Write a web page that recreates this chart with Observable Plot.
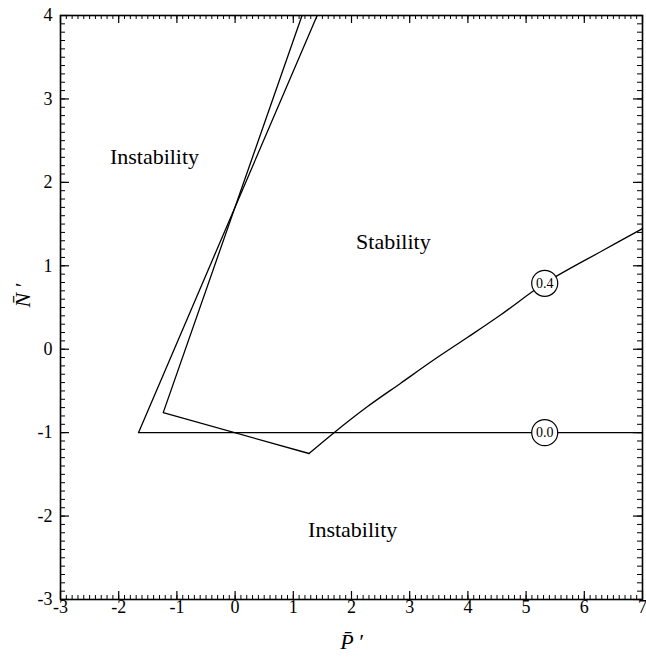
<!DOCTYPE html>
<html>
<head>
<meta charset="utf-8">
<script src="https://cdn.jsdelivr.net/npm/d3@7"></script>
<script src="https://cdn.jsdelivr.net/npm/@observablehq/plot@0.6"></script>
<style>
  html, body { margin: 0; padding: 0; background: #fff; }
</style>
</head>
<body>
<div id="chart"></div>
<script>
// Axis ticks
const xTicks = [-3, -2, -1, 0, 1, 2, 3, 4, 5, 6, 7];
const yTicks = [-3, -2, -1, 0, 1, 2, 3, 4];
const xMinor = d3.range(-30, 71).map(d => d / 10);
const yMinor = d3.range(-30, 41).map(d => d / 10);

// Curve labelled 0.0
const curve00P = [1.41, -1.66, 7];
const curve00N = [4, -1, -1];
// Curve labelled 0.4: straight part, then smooth branch
const curve04LineP = [1.15, -1.235, 1.27];
const curve04LineN = [4, -0.76, -1.25];
const curve04CurveP = [1.27, 1.70, 2.27, 2.84, 3.41, 3.99, 4.56, 5.32, 6.31, 7];
const curve04CurveN = [-1.25, -1.0, -0.69, -0.41, -0.13, 0.14, 0.41, 0.79, 1.18, 1.446];

// Curve value labels
const labelText = ["0.0", "0.4"];
const labelP = [5.32, 5.32];
const labelN = [-1, 0.79];

// Region annotations
const regionText = ["Instability", "Stability", "Instability"];
const regionP = [-1.385, 2.72, 2.02];
const regionN = [2.31, 1.29, -2.17];

const c00 = curve00P.map((p, i) => ({p, n: curve00N[i]}));
const c04a = curve04LineP.map((p, i) => ({p, n: curve04LineN[i]}));
const c04b = curve04CurveP.map((p, i) => ({p, n: curve04CurveN[i]}));
const labels = labelText.map((t, i) => ({t, p: labelP[i], n: labelN[i]}));
const regions = regionText.map((t, i) => ({t, p: regionP[i], n: regionN[i]}));

const serif = "'Liberation Serif', 'Times New Roman', serif";
const innerH = 662 - 15 - 63;
const innerW = 646 - 60 - 4;

const chart = Plot.plot({
  width: 646,
  height: 662,
  marginLeft: 60,
  marginRight: 4,
  marginTop: 15,
  marginBottom: 63,
  style: {fontFamily: serif, fontSize: "17px", color: "black", background: "white"},
  x: {domain: [-3, 7], axis: null},
  y: {domain: [-3, 4], axis: null},
  marks: [
    // minor ticks (inward, all four sides)
    Plot.tickX(xMinor, {x: d => d, insetTop: innerH - 4, stroke: "black", strokeWidth: 1}),
    Plot.tickX(xMinor, {x: d => d, insetBottom: innerH - 4, stroke: "black", strokeWidth: 1}),
    Plot.tickY(yMinor, {y: d => d, insetRight: innerW - 5, stroke: "black", strokeWidth: 1}),
    Plot.tickY(yMinor, {y: d => d, insetLeft: innerW - 5, stroke: "black", strokeWidth: 1}),
    // major ticks
    Plot.tickX(xTicks, {x: d => d, insetTop: innerH - 8, stroke: "black", strokeWidth: 1.2}),
    Plot.tickX(xTicks, {x: d => d, insetBottom: innerH - 8, stroke: "black", strokeWidth: 1.2}),
    Plot.tickY(yTicks, {y: d => d, insetRight: innerW - 9, stroke: "black", strokeWidth: 1.2}),
    Plot.tickY(yTicks, {y: d => d, insetLeft: innerW - 9, stroke: "black", strokeWidth: 1.2}),
    // tick labels
    Plot.text(xTicks, {x: d => d, text: d => String(d), frameAnchor: "bottom", dy: 13, fontSize: 18, fill: "black", fontFamily: serif}),
    Plot.text(yTicks, {y: d => d, text: d => String(d), frameAnchor: "left", dx: -8, textAnchor: "end", fontSize: 18, fill: "black", fontFamily: serif}),
    // curves
    Plot.line(c00, {x: "p", y: "n", stroke: "black", strokeWidth: 1.3}),
    Plot.line(c04a, {x: "p", y: "n", stroke: "black", strokeWidth: 1.3}),
    Plot.line(c04b, {x: "p", y: "n", stroke: "black", strokeWidth: 1.3, curve: "catmull-rom"}),
    // labels on curves
    Plot.dot(labels, {x: "p", y: "n", r: 13, fill: "white", stroke: "black", strokeWidth: 1.2}),
    Plot.text(labels, {x: "p", y: "n", text: "t", fontSize: 14, fill: "black", fontFamily: serif}),
    // region annotations
    Plot.text(regions, {x: "p", y: "n", text: "t", fontSize: 22, fill: "black", fontFamily: serif}),
    // axis labels
    Plot.text(["P\u0304\u2009\u2032"], {text: d => d, frameAnchor: "bottom", dy: 49, fontSize: 22, fontStyle: "italic", fill: "black", fontFamily: serif}),
    Plot.text(["N\u0304\u2009\u2032"], {text: d => d, frameAnchor: "left", dx: -38, rotate: -90, fontSize: 22, fontStyle: "italic", fill: "black", fontFamily: serif}),
    Plot.frame({stroke: "black", strokeWidth: 1.6})
  ]
});
document.getElementById("chart").appendChild(chart);
</script>
</body>
</html>
